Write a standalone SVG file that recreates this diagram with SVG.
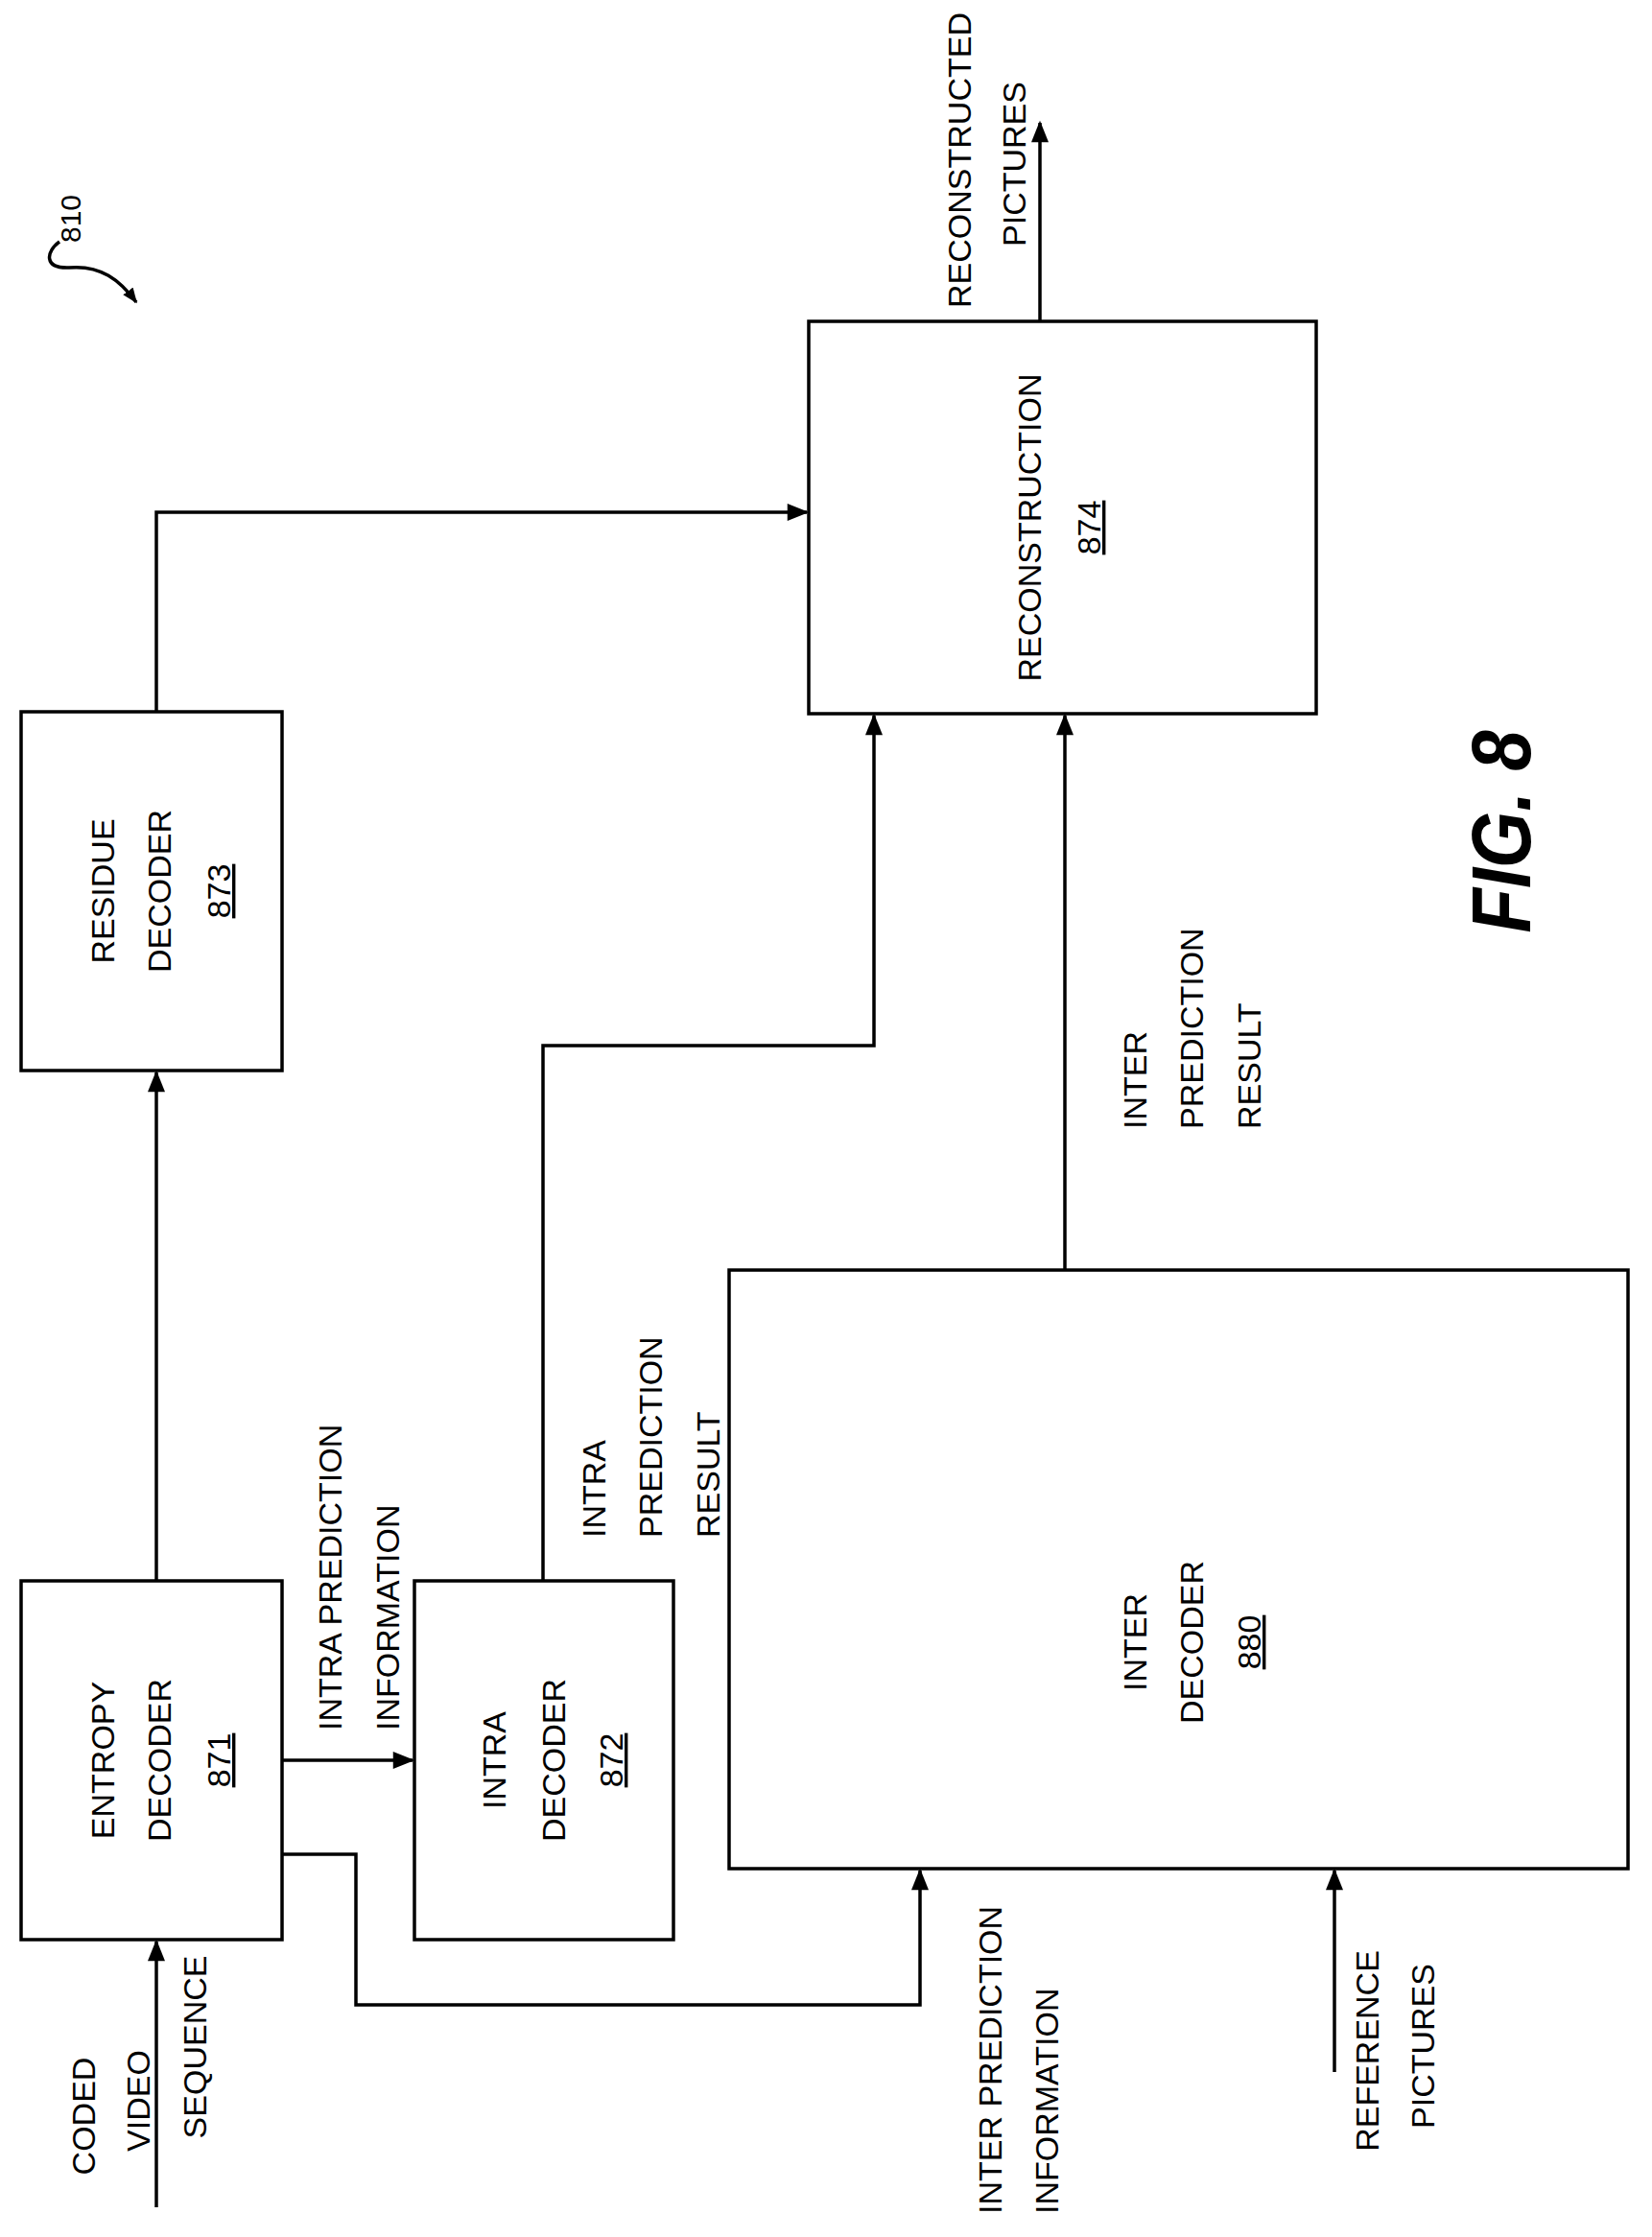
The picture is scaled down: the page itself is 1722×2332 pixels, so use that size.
<svg xmlns="http://www.w3.org/2000/svg" width="1722" height="2332" viewBox="0 0 1722 2332">
<style>
.b{fill:#fff;stroke:#000;stroke-width:3.5}
.c{fill:none;stroke:#000;stroke-width:3.5}
text{font-family:"Liberation Sans",Arial,sans-serif;font-size:34px;fill:#000}
.m{text-anchor:middle}
.u{text-decoration:underline}
</style>
<defs><marker id="a" markerWidth="16" markerHeight="14" refX="9" refY="4" orient="auto" markerUnits="userSpaceOnUse" viewBox="0 0 10 8"><path d="M0,0L10,4L0,8z"/></marker>
<marker id="A" viewBox="0 0 10 8" refX="9" refY="4" markerWidth="24" markerHeight="18" orient="auto" markerUnits="userSpaceOnUse"><path d="M0,0L10,4L0,8z"/></marker></defs>
<rect width="1722" height="2332" fill="#fff"/>
<g id="connectors">
<path class="c" d="M163,2301V2024" marker-end="url(#A)"/>
<path class="c" d="M163,1648V1118" marker-end="url(#A)"/>
<path class="c" d="M163,742V534H841" marker-end="url(#A)"/>
<path class="c" d="M294,1835H430" marker-end="url(#A)"/>
<path class="c" d="M294,1933H371V2090H959V1950" marker-end="url(#A)"/>
<path class="c" d="M566,1648V1090H911V746" marker-end="url(#A)"/>
<path class="c" d="M1110,1324V746" marker-end="url(#A)"/>
<path class="c" d="M1084,335V128" marker-end="url(#A)"/>
<path class="c" d="M1391,2160V1950" marker-end="url(#A)"/>
</g>
<g id="entropy"><rect class="b" x="22" y="1648" width="272" height="374"/>
<text class="m" transform="translate(119,1835) rotate(-90)">ENTROPY</text>
<text class="m" transform="translate(178,1835) rotate(-90)">DECODER</text>
<text class="m u" transform="translate(240,1835) rotate(-90)">871</text></g>
<g id="residue"><rect class="b" x="22" y="742" width="272" height="374"/>
<text class="m" transform="translate(119,929) rotate(-90)">RESIDUE</text>
<text class="m" transform="translate(178,929) rotate(-90)">DECODER</text>
<text class="m u" transform="translate(240,929) rotate(-90)">873</text></g>
<g id="intra"><rect class="b" x="432" y="1648" width="270" height="374"/>
<text class="m" transform="translate(527,1835) rotate(-90)">INTRA</text>
<text class="m" transform="translate(589,1835) rotate(-90)">DECODER</text>
<text class="m u" transform="translate(649,1835) rotate(-90)">872</text></g>
<g id="inter"><rect class="b" x="760" y="1324" width="937" height="624"/>
<text class="m" transform="translate(1195,1712) rotate(-90)">INTER</text>
<text class="m" transform="translate(1254,1712) rotate(-90)">DECODER</text>
<text class="m u" transform="translate(1314,1712) rotate(-90)">880</text></g>
<g id="recon"><rect class="b" x="843" y="335" width="529" height="409"/>
<text class="m" transform="translate(1085,550) rotate(-90)">RECONSTRUCTION</text>
<text class="m u" transform="translate(1147,550) rotate(-90)">874</text></g>
<g id="labels">
<text class="m" transform="translate(99,2206) rotate(-90)">CODED</text>
<text class="m" transform="translate(156,2190) rotate(-90)">VIDEO</text>
<text class="m" transform="translate(215,2134) rotate(-90)">SEQUENCE</text>
<text transform="translate(356,1804) rotate(-90)">INTRA PREDICTION</text>
<text transform="translate(416,1804) rotate(-90)">INFORMATION</text>
<text transform="translate(631,1603) rotate(-90)">INTRA</text>
<text transform="translate(690,1603) rotate(-90)">PREDICTION</text>
<text transform="translate(750,1603) rotate(-90)">RESULT</text>
<text transform="translate(1195,1177) rotate(-90)">INTER</text>
<text transform="translate(1254,1177) rotate(-90)">PREDICTION</text>
<text transform="translate(1314,1177) rotate(-90)">RESULT</text>
<text transform="translate(1044,2308) rotate(-90)">INTER PREDICTION</text>
<text transform="translate(1103,2308) rotate(-90)">INFORMATION</text>
<text class="m" transform="translate(1437,2138) rotate(-90)">REFERENCE</text>
<text class="m" transform="translate(1495,2133) rotate(-90)">PICTURES</text>
<text class="m" transform="translate(1012,167) rotate(-90)">RECONSTRUCTED</text>
<text class="m" transform="translate(1069,171) rotate(-90)">PICTURES</text>
</g>
<g id="ref810">
<text class="m" style="font-size:30px" transform="translate(84,228) rotate(-90)">810</text>
<path class="c" d="M62,252C48,262 45,280 72,279C105,276 125,292 142,315" marker-end="url(#a)"/>
</g>
<text transform="translate(1595,867) rotate(-90)" class="m" style="font-size:88px;font-weight:bold;font-style:italic" textLength="211" lengthAdjust="spacingAndGlyphs">FIG. 8</text>
</svg>
